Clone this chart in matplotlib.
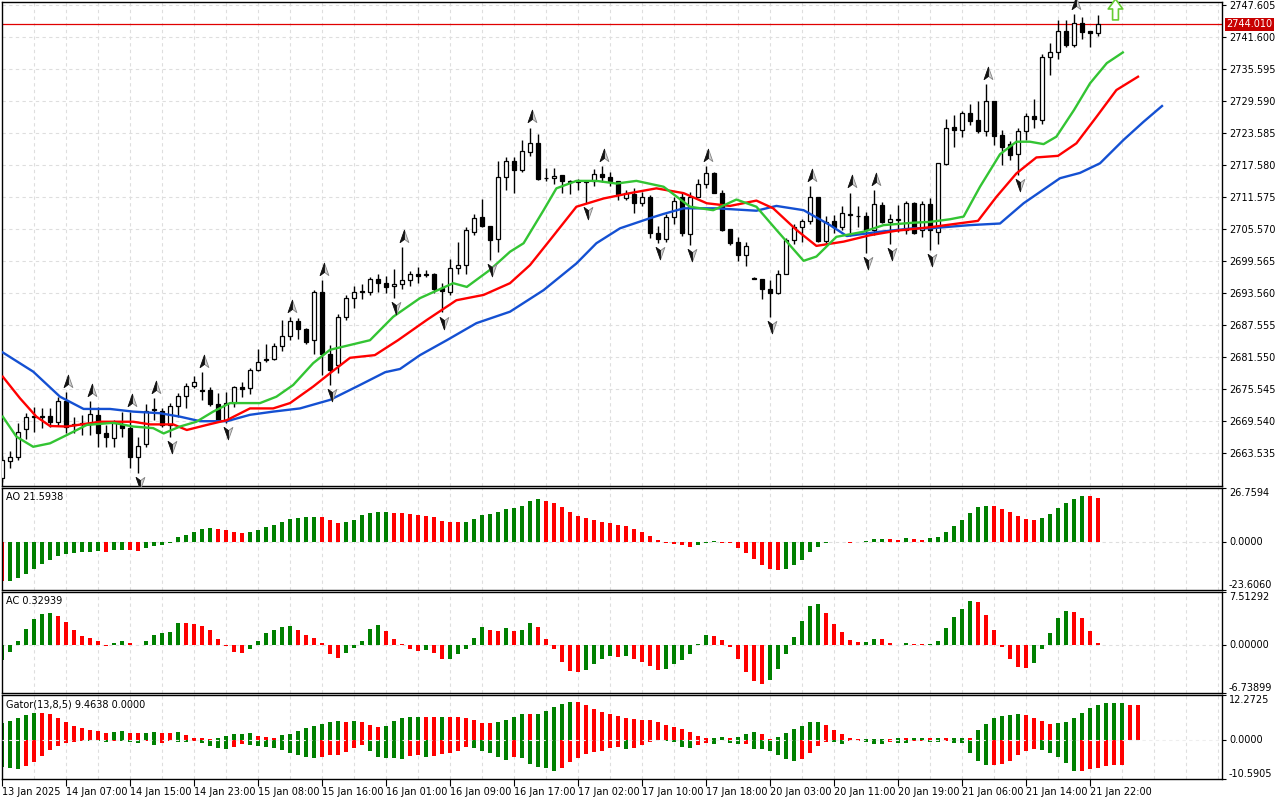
import numpy as np
import matplotlib
matplotlib.use("Agg")
import matplotlib.pyplot as plt
from matplotlib.path import Path

# ---- price data (H1 candles) ----
opens = [2658.8, 2662.0, 2662.8, 2668.0, 2670.5, 2670.3, 2670.5, 2669.4, 2673.3, 2668.7,
         2669.0, 2669.0, 2670.7, 2667.2, 2666.4, 2668.8, 2668.2, 2662.8, 2665.2, 2671.6,
         2671.5, 2668.8, 2672.3, 2674.2, 2676.2, 2675.3, 2675.4, 2672.7, 2669.7, 2673.0,
         2675.9, 2675.7, 2679.1, 2680.9, 2681.2, 2683.7, 2685.5, 2688.3, 2686.8, 2684.7,
         2693.7, 2682.2, 2680.0, 2689.1, 2692.6, 2693.9, 2693.8, 2696.2, 2695.4, 2694.9,
         2695.2, 2696.0, 2697.2, 2697.1, 2697.1, 2694.5, 2693.8, 2698.2, 2698.8, 2705.1,
         2707.8, 2706.1, 2703.6, 2715.3, 2718.3, 2716.6, 2720.1, 2721.8, 2715.1, 2715.1,
         2715.7, 2714.5, 2714.4, 2714.5, 2714.6, 2715.9, 2715.3, 2714.6, 2711.3, 2712.1,
         2710.4, 2711.5, 2704.8, 2703.7, 2707.8, 2711.5, 2704.6, 2711.6, 2714.1, 2716.1,
         2712.4, 2705.5, 2703.1, 2700.6, 2696.3, 2696.2, 2694.3, 2693.5, 2697.2, 2703.5,
         2705.9, 2707.1, 2711.5, 2703.4, 2707.0, 2705.9, 2708.2, 2708.1, 2708.0, 2705.3,
         2710.1, 2706.8, 2707.2, 2705.4, 2710.5, 2705.4, 2710.2, 2705.1, 2717.8, 2724.8,
         2724.1, 2727.3, 2726.0, 2724.0, 2729.6, 2723.2, 2721.5, 2719.6, 2724.0, 2726.8,
         2726.1, 2737.9, 2738.7, 2742.8, 2740.1, 2744.3, 2742.7, 2742.3]
highs = [2663.0, 2664.0, 2669.1, 2671.0, 2672.2, 2672.0, 2671.9, 2674.1, 2675.0, 2670.3,
         2670.7, 2673.3, 2672.2, 2668.8, 2669.7, 2671.3, 2671.3, 2666.6, 2672.7, 2673.8,
         2671.9, 2672.9, 2674.7, 2676.6, 2678.0, 2678.8, 2676.0, 2674.7, 2674.9, 2676.2,
         2676.9, 2679.4, 2683.0, 2684.0, 2684.1, 2688.5, 2689.1, 2688.9, 2686.9, 2694.1,
         2696.0, 2683.8, 2689.7, 2693.2, 2694.9, 2695.2, 2696.6, 2697.2, 2696.7, 2698.0,
         2702.1, 2697.6, 2698.5, 2697.9, 2697.4, 2695.5, 2699.9, 2703.1, 2706.0, 2708.4,
         2711.2, 2706.1, 2718.3, 2719.0, 2719.0, 2722.3, 2724.6, 2723.4, 2717.0, 2717.0,
         2715.7, 2714.7, 2715.0, 2714.8, 2716.9, 2717.3, 2716.3, 2714.6, 2712.8, 2713.2,
         2712.6, 2712.0, 2706.1, 2708.4, 2711.5, 2712.6, 2712.5, 2714.9, 2717.3, 2716.3,
         2712.9, 2705.5, 2704.1, 2703.2, 2696.5, 2696.2, 2696.0, 2697.9, 2703.8, 2706.6,
         2707.4, 2713.6, 2711.6, 2708.0, 2708.2, 2709.8, 2712.4, 2709.9, 2708.8, 2712.9,
         2710.7, 2708.4, 2710.1, 2710.8, 2710.7, 2710.8, 2711.3, 2718.0, 2726.3, 2726.9,
         2727.8, 2729.0, 2729.5, 2732.8, 2729.6, 2724.1, 2722.0, 2724.5, 2727.3, 2729.9,
         2738.5, 2740.4, 2744.7, 2744.7, 2745.9, 2745.4, 2742.7, 2745.7]
lows = [2658.0, 2660.7, 2662.2, 2666.1, 2667.5, 2668.3, 2668.5, 2668.6, 2667.3, 2667.2,
        2666.9, 2666.9, 2664.7, 2664.7, 2664.7, 2666.6, 2660.7, 2659.7, 2664.7, 2669.7,
        2668.5, 2666.6, 2670.3, 2671.9, 2675.7, 2673.5, 2672.4, 2669.4, 2669.1, 2672.2,
        2674.1, 2674.6, 2679.0, 2680.7, 2680.9, 2682.7, 2684.7, 2684.9, 2684.0, 2682.1,
        2678.2, 2676.3, 2678.5, 2688.5, 2690.7, 2692.4, 2693.1, 2693.7, 2693.5, 2692.7,
        2694.4, 2694.9, 2695.5, 2696.6, 2693.5, 2689.9, 2693.2, 2697.1, 2697.1, 2704.4,
        2706.0, 2699.8, 2701.2, 2712.8, 2712.4, 2716.3, 2719.3, 2714.8, 2714.6, 2714.0,
        2712.3, 2712.1, 2712.9, 2710.4, 2713.6, 2714.4, 2713.6, 2711.1, 2711.0, 2708.5,
        2709.8, 2703.8, 2702.9, 2703.2, 2706.6, 2704.3, 2702.6, 2711.5, 2713.2, 2712.3,
        2705.2, 2702.6, 2699.6, 2698.7, 2696.1, 2692.4, 2689.1, 2693.4, 2697.2, 2702.8,
        2703.2, 2706.6, 2703.2, 2702.9, 2704.8, 2705.3, 2704.3, 2705.9, 2701.1, 2704.4,
        2706.7, 2702.8, 2705.1, 2704.6, 2704.6, 2704.1, 2701.6, 2702.8, 2717.6, 2720.9,
        2722.8, 2725.1, 2723.5, 2723.0, 2721.3, 2717.6, 2718.5, 2715.7, 2722.3, 2724.5,
        2725.3, 2734.5, 2737.5, 2739.8, 2739.8, 2741.2, 2739.8, 2741.8]
closes = [2662.2, 2662.7, 2667.5, 2670.3, 2670.3, 2670.4, 2669.4, 2673.3, 2668.5, 2669.0,
          2669.2, 2670.8, 2667.2, 2666.5, 2669.2, 2668.2, 2662.7, 2664.9, 2671.5, 2671.7,
          2668.8, 2672.3, 2674.2, 2676.2, 2676.9, 2675.2, 2672.7, 2669.7, 2673.0, 2675.9,
          2675.5, 2679.1, 2680.7, 2681.2, 2683.7, 2685.5, 2688.3, 2686.8, 2684.4, 2693.7,
          2682.2, 2679.1, 2689.1, 2692.6, 2693.7, 2693.8, 2696.2, 2695.4, 2694.7, 2695.2,
          2696.0, 2697.2, 2696.8, 2696.9, 2694.4, 2693.9, 2698.2, 2698.8, 2705.4, 2707.6,
          2706.2, 2703.5, 2715.3, 2718.3, 2716.6, 2720.2, 2721.8, 2715.0, 2715.2, 2715.6,
          2714.5, 2714.4, 2714.6, 2714.3, 2715.9, 2715.3, 2714.6, 2712.1, 2712.4, 2710.4,
          2711.5, 2704.75, 2703.7, 2707.8, 2710.9, 2704.9, 2711.5, 2714.1, 2716.0, 2712.4,
          2705.4, 2703.0, 2700.6, 2702.3, 2696.2, 2694.3, 2693.5, 2697.2, 2703.5, 2705.9,
          2707.1, 2711.5, 2703.4, 2706.8, 2705.9, 2708.5, 2708.3, 2708.0, 2705.3, 2710.2,
          2706.8, 2707.4, 2707.4, 2710.5, 2704.8, 2710.2, 2705.4, 2717.9, 2724.5, 2724.1,
          2727.3, 2725.9, 2724.0, 2729.6, 2723.0, 2721.0, 2719.5, 2724.0, 2726.8, 2726.2,
          2737.9, 2738.7, 2742.8, 2740.1, 2744.3, 2742.6, 2742.3, 2744.01]
last_price = 2744.01

# ---- alligator lines (bar position, price) ----
jaw_x = [0.1, 3.9, 7.25, 10.2, 13.5, 16.4, 19.75, 22.25, 24.75, 28.1, 31, 33.9, 37.25, 41,
         44.75, 47.9, 49.75, 52.25, 55.6, 59.3, 63.5, 67.7, 71.8, 74.3, 77.25, 81, 82.7,
         85.2, 89.3, 94.3, 96.8, 100.2, 103.5, 105.6, 109.75, 113.9, 116, 121, 124.75,
         127.7, 132.25, 134.75, 137.25, 140.2, 142.7, 145]
jaw_y = [2682.4, 2678.8, 2674.1, 2671.8, 2671.8, 2671.3, 2671.0, 2670.35, 2669.5, 2669.5,
         2670.7, 2671.3, 2671.9, 2673.5, 2676.3, 2678.7, 2679.3, 2681.9, 2684.7, 2687.9,
         2690.05, 2694.1, 2699.1, 2702.9, 2705.7, 2707.6, 2708.4, 2709.45, 2709.45, 2709.0,
         2709.9, 2709.1, 2706.3, 2704.25, 2705.06, 2705.7, 2705.7, 2706.3, 2706.6, 2710.4,
         2715.1, 2716.1, 2717.9, 2722.3, 2725.7, 2728.65]
teeth_x = [0.1, 2.25, 4.3, 6, 8.1, 12.25, 16.4, 18.5, 21.4, 23.1, 25.6, 28.1, 31, 33.9, 36,
           38.9, 41, 43.5, 46.6, 49.5, 53.1, 56.8, 60.2, 63.5, 66, 68.5, 71.8, 75.2, 78.5,
           81.8, 85.2, 88.1, 91, 94.3, 96.4, 99.3, 101.8, 105.2, 108.5, 111.8, 116, 121,
           122, 124.3, 126.8, 129.3, 132, 134.3, 136.8, 139.3, 142]
teeth_y = [2677.85, 2673.8, 2670.35, 2668.6, 2668.5, 2669.4, 2669.4, 2668.9, 2668.9, 2667.85,
           2668.8, 2669.7, 2671.9, 2671.9, 2672.9, 2676.0, 2678.5, 2681.4, 2681.9, 2684.7,
           2688.5, 2692.2, 2693.2, 2695.4, 2698.8, 2703.5, 2709.75, 2711.3, 2712.3, 2713.2,
           2712.3, 2710.4, 2709.9, 2710.9, 2709.45, 2705.4, 2702.4, 2703.2, 2704.4, 2705.25,
           2705.9, 2706.9, 2707.1, 2711.6, 2716.0, 2719.0, 2719.3, 2721.65, 2726.6, 2731.65,
           2734.15]
lips_x = [0.1, 1.8, 3.9, 6, 8.1, 10.6, 13.9, 16.4, 18.9, 20.2, 22.25, 24.3, 26.4, 28.5, 32.25,
          34.3, 36.4, 38.9, 41, 46, 48.9, 52.25, 56.4, 58.1, 61, 63.5, 65.2, 67.7, 69.3, 71.8,
          74.3, 76.8, 79.3, 82.7, 86, 88.9, 91.8, 94.3, 96.8, 100.2, 101.8, 104.3, 107.7,
          110.2, 113.9, 116, 118.5, 120.2, 122.25, 124.75, 126.8, 128.5, 130.2, 131.8, 134,
          136, 138.1, 140.1]
lips_y = [2670.35, 2666.6, 2664.7, 2665.35, 2666.9, 2668.8, 2669.2, 2668.5, 2668.2, 2667.2,
          2668.5, 2669.4, 2671.3, 2672.9, 2672.9, 2674.1, 2676.3, 2680.4, 2682.9, 2684.7,
          2689.1, 2692.6, 2695.4, 2694.7, 2697.9, 2701.3, 2702.9, 2709.1, 2713.2, 2714.6,
          2714.6, 2714.1, 2714.6, 2713.5, 2709.75, 2709.1, 2711.1, 2709.75, 2705.4, 2699.6,
          2700.4, 2704.1, 2705.06, 2706.3, 2706.75, 2706.9, 2707.4, 2707.9, 2713.5, 2719.6,
          2721.95, 2721.95, 2721.5, 2722.9, 2727.9, 2732.9, 2736.7, 2738.7]

up_fractals = [8, 11, 16, 19, 25, 36, 40, 50, 66, 75, 88, 101, 106, 109, 123, 134]
down_fractals = [17, 21, 28, 41, 49, 55, 61, 73, 82, 86, 96, 108, 111, 116, 127]
signal_bars = [139.1]
signal_prices = [2746.8]

# ---- oscillators ----
ao = [-19.3, -19.1, -17.6, -15.8, -13.1, -10.7, -8.7, -6.7, -5.8, -5.1,
      -5.0, -4.6, -4.3, -4.8, -4.1, -3.8, -3.9, -4.3, -3.1, -1.8,
      -1.2, -0.35, 2.6, 3.6, 5.2, 6.4, 7.0, 6.6, 6.1, 5.1,
      4.7, 5.2, 6.2, 7.5, 8.5, 10.2, 11.6, 12.1, 12.4, 12.6,
      12.5, 11.2, 9.7, 10.2, 10.8, 13.4, 14.3, 14.9, 15.1, 14.4,
      14.3, 13.9, 13.4, 12.95, 12.5, 10.6, 10.15, 10.0, 10.2, 11.5,
      13.4, 13.9, 14.9, 16.4, 16.9, 17.9, 20.3, 21.3, 20.3, 19.4,
      17.4, 14.9, 12.8, 11.8, 11.0, 10.0, 9.5, 8.5, 8.0, 6.6,
      5.1, 3.1, 1.1, -0.2, -0.7, -1.5, -2.15, -1.2, -0.2, 0.6,
      -0.2, -0.35, -2.8, -5.3, -8.2, -11.2, -13.1, -13.6, -13.15, -11.2,
      -8.6, -4.6, -2.3, -0.5, -0.15, -0.05, -0.2, 0.0, 0.5, 1.45,
      1.6, 1.5, 1.0, 1.95, 1.5, 1.3, 1.95, 2.6, 5.1, 8.0,
      11.0, 14.4, 17.4, 17.9, 17.7, 16.4, 14.9, 13.0, 11.5, 11.0,
      12.0, 13.9, 16.9, 19.4, 21.3, 22.8, 22.7, 21.5938]
ac = [-2.1, -1.0, 0.6, 2.25, 3.66, 4.4, 4.55, 4.1, 3.3, 2.15,
      1.3, 1.0, 0.6, -0.05, 0.3, 0.6, 0.3, 0.05, 0.6, 1.45,
      1.75, 1.9, 3.15, 3.1, 3.0, 2.7, 2.15, 0.9, -0.1, -0.9,
      -1.05, -0.6, 0.6, 1.75, 2.15, 2.6, 2.7, 2.15, 1.45, 1.0,
      0.3, -1.2, -1.8, -1.05, -0.4, 0.6, 2.3, 2.85, 2.0, 0.9,
      0.2, -0.5, -0.75, -0.7, -1.05, -2.0, -1.9, -1.3, -0.5, 1.0,
      2.6, 2.15, 2.0, 2.4, 2.0, 2.1, 3.15, 2.6, 0.9, -0.5,
      -2.3, -3.7, -3.75, -3.45, -2.7, -1.9, -1.45, -1.6, -1.45, -1.9,
      -2.3, -2.9, -3.45, -3.3, -2.6, -2.15, -1.3, 0.2, 1.45, 1.3,
      0.75, -0.25, -2.0, -3.75, -5.0, -5.4, -4.85, -3.3, -1.3, 1.15,
      3.4, 5.55, 5.8, 4.55, 3.0, 1.9, 0.75, 0.45, 0.5, 0.9,
      0.85, 0.3, -0.02, 0.3, 0.2, 0.15, 0.22, 0.6, 2.45, 4.0,
      5.1, 6.25, 6.1, 4.3, 2.15, -0.25, -2.0, -3.0, -3.15, -2.45,
      -0.5, 1.75, 3.85, 4.85, 4.7, 3.85, 2.0, 0.32939]
gator_up = [4.65, 5.28, 6.10, 6.91, 7.46, 7.40, 7.19, 6.10, 5.01, 3.92,
            3.38, 2.83, 2.56, 2.01, 2.29, 2.35, 2.01, 1.95, 2.01, 2.29,
            2.01, 1.95, 2.29, 1.47, 0.65, 0.47, 0.29, 0.47, 1.02, 1.56,
            1.74, 1.80, 1.20, 0.93, 0.65, 1.47, 1.74, 2.56, 3.38, 3.92,
            4.46, 5.01, 5.28, 5.01, 5.28, 5.01, 4.19, 3.65, 3.92, 5.28,
            6.10, 6.37, 6.40, 6.35, 6.30, 6.37, 6.33, 6.30, 6.10, 5.55,
            4.74, 4.70, 5.01, 5.55, 6.37, 7.19, 7.15, 7.22, 8.00, 9.09,
            9.91, 10.45, 10.40, 9.64, 8.55, 7.73, 7.19, 6.64, 6.10, 5.83,
            5.55, 5.50, 5.01, 4.19, 3.65, 3.10, 2.29, 1.20, 0.65, 0.70,
            0.72, 0.65, 0.93, 1.74, 2.29, 1.74, 0.38, 0.93, 2.01, 3.10,
            3.92, 5.01, 5.05, 4.19, 2.83, 1.74, 0.65, 0.20, 0.29, 0.38,
            0.40, 0.30, 0.65, 0.47, 0.65, 0.66, 0.56, 0.65, 0.56, 0.65,
            0.66, 0.62, 2.83, 4.46, 6.10, 6.64, 6.91, 7.19, 6.91, 6.10,
            5.28, 4.46, 4.74, 5.01, 6.10, 7.46, 8.82, 9.64, 10.18, 10.20,
            10.22, 9.64, 9.4638]
gator_down = [7.42, 7.69, 7.97, 7.15, 6.06, 4.43, 2.79, 1.71, 0.89, 0.62,
              0.25, 0.30, 0.34, 0.40, 0.16, 0.34, 0.62, 0.89, 0.34, 1.43,
              0.89, 0.34, 0.62, 0.65, 0.25, 0.89, 1.71, 2.25, 2.52, 1.98,
              1.16, 1.43, 1.71, 1.89, 2.25, 2.79, 3.61, 4.16, 4.70, 4.97,
              4.70, 4.16, 4.10, 3.34, 2.25, 1.43, 3.07, 4.70, 4.97, 5.00,
              5.02, 4.43, 4.16, 4.70, 4.43, 3.88, 3.61, 3.07, 1.98, 2.25,
              3.07, 3.61, 4.70, 5.52, 4.70, 4.97, 6.61, 7.42, 7.69, 8.51,
              7.69, 6.06, 4.97, 3.88, 3.34, 3.07, 2.25, 1.98, 2.52, 2.25,
              1.43, 0.62, 0.07, 0.25, 0.62, 1.98, 2.25, 1.43, 0.89, 1.16,
              0.07, 0.89, 1.16, 1.10, 2.52, 2.55, 3.07, 4.16, 5.24, 5.79,
              5.24, 3.61, 1.71, 0.62, 0.65, 1.16, 0.34, 0.30, 0.62, 1.16,
              1.18, 0.62, 0.89, 0.90, 0.34, 0.30, 0.62, 0.65, 0.34, 0.89,
              0.90, 3.61, 5.79, 6.88, 6.80, 6.61, 5.79, 4.16, 3.07, 2.52,
              2.79, 3.61, 4.70, 6.33, 8.51, 8.45, 7.97, 7.69, 7.15, 6.88,
              6.85]

price_ticks = [2747.605, 2741.600, 2735.595, 2729.590, 2723.585, 2717.580, 2711.575,
               2705.570, 2699.565, 2693.560, 2687.555, 2681.550, 2675.545, 2669.540, 2663.535]
time_labels = ["13 Jan 2025", "14 Jan 07:00", "14 Jan 15:00", "14 Jan 23:00", "15 Jan 08:00",
               "15 Jan 16:00", "16 Jan 01:00", "16 Jan 09:00", "16 Jan 17:00", "17 Jan 02:00",
               "17 Jan 10:00", "17 Jan 18:00", "20 Jan 03:00", "20 Jan 11:00", "20 Jan 19:00",
               "21 Jan 06:00", "21 Jan 14:00", "21 Jan 22:00"]
time_label_bars = list(range(0, 8 * len(time_labels), 8))

GREEN = "#008000"
RED = "#ff0000"
GRID = "#dedede"
FS = 7

W, H = 1280, 800
fig = plt.figure(figsize=(W / 100, H / 100), dpi=100)
fig.patch.set_facecolor("white")


def panel(x0, y0, x1, y1):
    return fig.add_axes([x0 / W, 1 - y1 / H, (x1 - x0) / W, (y1 - y0) / H])


ax = panel(2, 2, 1222, 486)
ax_ao = panel(2, 488, 1222, 590)
ax_ac = panel(2, 592, 1222, 693)
ax_gt = panel(2, 695, 1222, 779)

for a in (ax, ax_ao, ax_ac, ax_gt):
    a.set_xlim(0.0, 152.5)
    for s in a.spines.values():
        s.set_color("black")
        s.set_linewidth(1.0)
    a.yaxis.tick_right()
    a.tick_params(axis="y", length=3, width=0.8, labelsize=FS, pad=2)
    a.tick_params(axis="x", bottom=False, labelbottom=False)
    for gx in range(4, 153, 4):
        a.axvline(gx, color=GRID, lw=0.8, ls=(0, (3, 3)), zorder=0)

# ---- main price chart ----
o = np.array(opens)
h = np.array(highs)
l = np.array(lows)
c = np.array(closes)
idx = np.arange(len(c))
ax.set_ylim(2657.34, 2748.17)
ax.set_yticks(price_ticks)
ax.set_yticklabels([f"{p:.3f}" for p in price_ticks])
for p in price_ticks:
    ax.axhline(p, color=GRID, lw=0.8, ls=(0, (3, 3)), zorder=0)

ax.vlines(idx, l, h, color="black", lw=1.0, zorder=3)
bull = c >= o
body_lo = np.minimum(o, c)
body_h = np.maximum(np.abs(c - o), 0.1)
ax.bar(idx[bull], body_h[bull], bottom=body_lo[bull], width=0.62,
       facecolor="white", edgecolor="black", lw=0.9, zorder=4)
ax.bar(idx[~bull], body_h[~bull], bottom=body_lo[~bull], width=0.62,
       facecolor="black", edgecolor="black", lw=0.9, zorder=4)

ax.plot(jaw_x, jaw_y, color="#1450d2", lw=1.7, zorder=5, solid_joinstyle="round")
ax.plot(teeth_x, teeth_y, color="#ff0000", lw=1.7, zorder=5, solid_joinstyle="round")
ax.plot(lips_x, lips_y, color="#33c433", lw=1.7, zorder=5, solid_joinstyle="round")

ax.axhline(last_price, color="#e00000", lw=0.9, zorder=2)
ax.text(1.0 + 4 / 1220, last_price, f"{last_price:.3f}", transform=ax.get_yaxis_transform(),
        ha="left", va="center", fontsize=FS, color="white", clip_on=False,
        bbox=dict(boxstyle="square,pad=0.15", fc="#c80000", ec="none"))

# fractal arrows
up_full = Path([(0, 1), (0.6, -0.7), (0, -0.25), (-0.6, -0.7), (0, 1)],
               [Path.MOVETO, Path.LINETO, Path.LINETO, Path.LINETO, Path.CLOSEPOLY])
up_half = Path([(0, 1), (0, -0.25), (-0.6, -0.7), (0, 1)],
               [Path.MOVETO, Path.LINETO, Path.LINETO, Path.CLOSEPOLY])
dn_full = Path([(0, -1), (0.6, 0.7), (0, 0.25), (-0.6, 0.7), (0, -1)],
               [Path.MOVETO, Path.LINETO, Path.LINETO, Path.LINETO, Path.CLOSEPOLY])
dn_half = Path([(0, -1), (0, 0.25), (-0.6, 0.7), (0, -1)],
               [Path.MOVETO, Path.LINETO, Path.LINETO, Path.CLOSEPOLY])
fu = np.array(up_fractals)
fd = np.array(down_fractals)
for mk, fc, ec in ((up_full, "#d0d0d0", "#808080"), (up_half, "#111111", "#111111")):
    ax.plot(fu + 0.3, h[fu] + 1.9, ls="none", marker=mk, ms=10.5, mfc=fc, mec=ec,
            mew=0.6, zorder=6, clip_on=False)
for mk, fc, ec in ((dn_full, "#d0d0d0", "#808080"), (dn_half, "#111111", "#111111")):
    ax.plot(fd + 0.3, l[fd] - 1.7, ls="none", marker=mk, ms=10.5, mfc=fc, mec=ec,
            mew=0.6, zorder=6)

arrow = Path([(-0.28, -1), (0.28, -1), (0.28, 0.05), (0.7, 0.05), (0, 1), (-0.7, 0.05),
              (-0.28, 0.05), (-0.28, -1)],
             [Path.MOVETO] + [Path.LINETO] * 6 + [Path.CLOSEPOLY])
ax.plot(signal_bars, signal_prices, ls="none", marker=arrow, ms=15, mfc="white",
        mec="#66cc33", mew=1.2, zorder=6, clip_on=False)


# ---- oscillator panels ----
def hist_colors(vals, first, use_abs=False):
    cols = [first]
    for i in range(1, len(vals)):
        a, b = vals[i], vals[i - 1]
        if use_abs:
            a, b = abs(a), abs(b)
        cols.append(GREEN if a > b else RED if a < b else cols[-1])
    return cols


def setup_osc(a, lo, hi, labels, title, zero_z=0, zero_col=GRID):
    a.set_ylim(lo, hi)
    a.set_yticks([hi, 0, lo])
    a.set_yticklabels(labels)
    for lab, va in zip(a.get_yticklabels(), ["top", "center", "bottom"]):
        lab.set_va(va)
    a.axhline(0, color=zero_col, lw=0.8, ls=(0, (3, 3)), zorder=zero_z)
    a.annotate(title, xy=(0, 1), xycoords="axes fraction", xytext=(3, -3),
               textcoords="offset points", ha="left", va="top", fontsize=FS)


ax_ao.bar(np.arange(len(ao)), ao, width=0.42, color=hist_colors(ao, RED), lw=0, zorder=2)
setup_osc(ax_ao, -23.606, 26.7594, ["26.7594", "0.0000", "-23.6060"], f"AO {ao[-1]:.4f}")

ax_ac.bar(np.arange(len(ac)), ac, width=0.42, color=hist_colors(ac, GREEN), lw=0, zorder=2)
setup_osc(ax_ac, -6.73899, 7.51292, ["7.51292", "0.00000", "-6.73899"], f"AC {ac[-1]:.5f}")

ax_gt.bar(np.arange(len(gator_up)), gator_up, width=0.42,
          color=hist_colors(gator_up, GREEN), lw=0, zorder=2)
ax_gt.bar(np.arange(len(gator_down)), -np.array(gator_down), width=0.42,
          color=hist_colors(gator_down, GREEN), lw=0, zorder=2)
setup_osc(ax_gt, -10.5905, 12.2725, ["12.2725", "0.0000", "-10.5905"],
          f"Gator(13,8,5) {gator_up[-1]:.4f} 0.0000", zero_z=3, zero_col="#eeeeee")

ax_gt.set_xticks(time_label_bars)
ax_gt.set_xticklabels(time_labels, ha="left")
ax_gt.tick_params(axis="x", bottom=True, labelbottom=True, length=5, width=0.8,
                  pad=1, labelsize=FS)

fig.savefig("out.png", dpi=100, facecolor="white")
